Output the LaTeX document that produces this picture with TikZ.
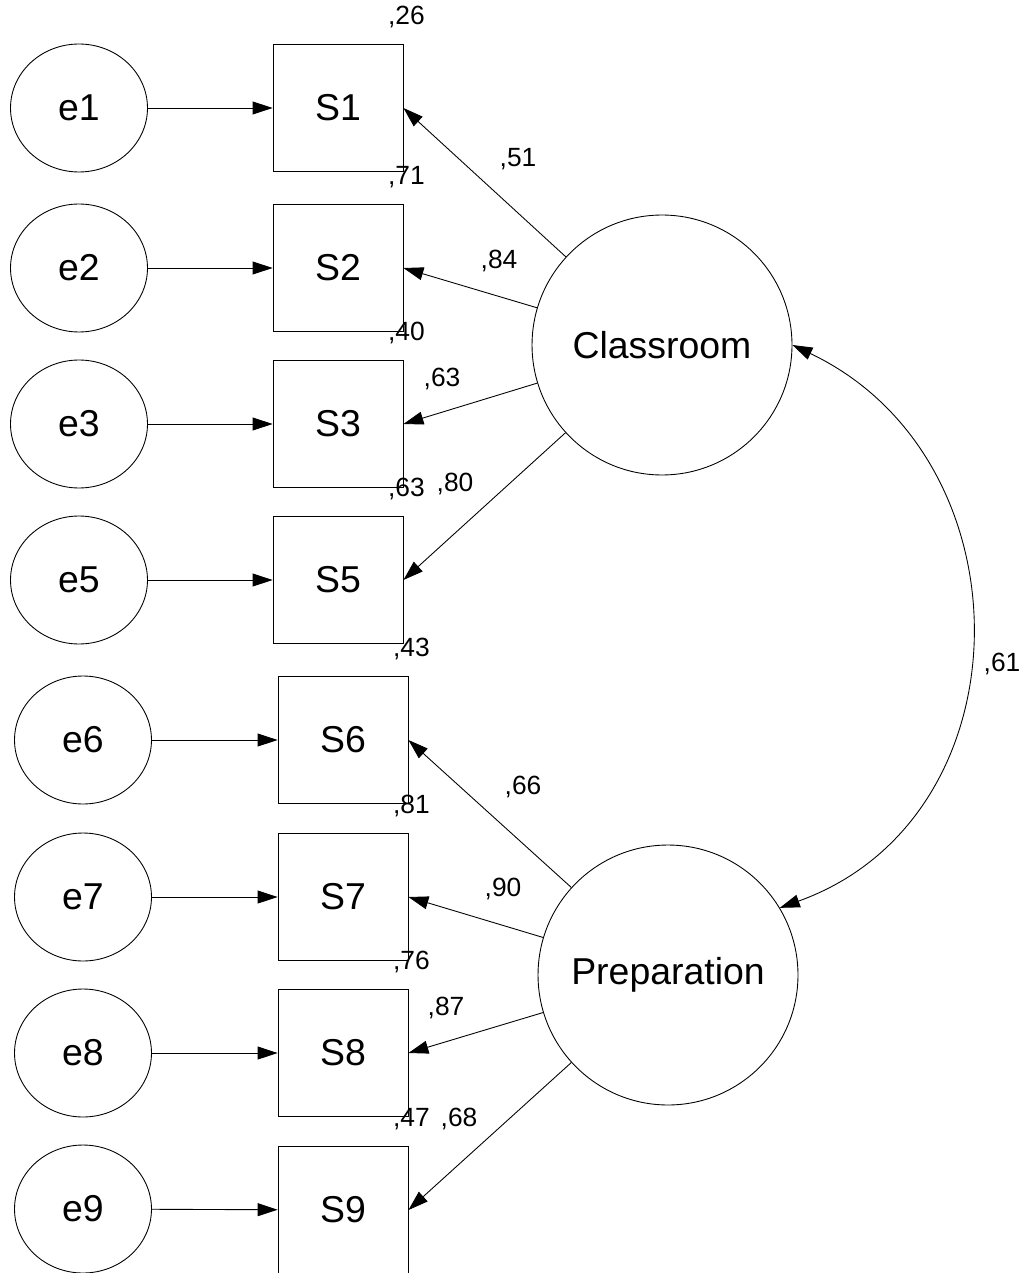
\documentclass[tikz,border=0pt]{standalone}
\usepackage{fontspec}
\setmainfont{Liberation Sans}
\usetikzlibrary{arrows.meta,shapes.geometric}

\begin{document}
\begin{tikzpicture}[x=0.02cm, y=-0.02cm,
    every node/.style = {font=\fontsize{21.3}{25}\selectfont},
    err/.style = {ellipse, draw, line width=0.5pt, minimum width=2.74cm,
      minimum height=2.56cm, inner sep=0pt},
    obs/.style = {rectangle, draw, line width=0.5pt, minimum width=2.6cm,
      minimum height=2.54cm, inner sep=0pt},
    lat/.style = {circle, draw, line width=0.5pt, minimum size=5.2cm},
    coef/.style = {font=\fontsize{15}{18}\selectfont, inner sep=0pt},
    link/.style = {-{Triangle[length=0.4cm,width=0.26cm]}, line width=0.5pt},
    cov/.style = {{Triangle[length=0.4cm,width=0.26cm]}-{Triangle[length=0.4cm,width=0.26cm]},
      line width=0.5pt}]
    \useasboundingbox (0,0) rectangle (1024,1273);
    \clip (0,0) rectangle (1024,1273);

    % error terms
    \node[err] (e1) at (79,108) {e1};
    \node[err] (e2) at (79,268) {e2};
    \node[err] (e3) at (79,424) {e3};
    \node[err] (e5) at (79,580) {e5};
    \node[err] (e6) at (83,740) {e6};
    \node[err] (e7) at (83,897) {e7};
    \node[err] (e8) at (83,1053) {e8};
    \node[err] (e9) at (83,1209) {e9};

    % items
    \node[obs] (S1) at (338,108) {S1};
    \node[obs] (S2) at (338,268) {S2};
    \node[obs] (S3) at (338,424) {S3};
    \node[obs] (S5) at (338,580) {S5};
    \node[obs] (S6) at (343,740) {S6};
    \node[obs] (S7) at (343,897) {S7};
    \node[obs] (S8) at (343,1053) {S8};
    \node[obs] (S9) at (343,1210) {S9};

    % factors
    \node[lat] (cls) at (662,345) {Classroom};
    \node[lat] (pre) at (668,975) {Preparation};

    % squared multiple correlations
    \node[coef] (r1) at ([xshift=0.06cm,yshift=0.54cm]S1.north east) {,26};
    \node[coef] (r2) at ([xshift=0.06cm,yshift=0.54cm]S2.north east) {,71};
    \node[coef] (r3) at ([xshift=0.06cm,yshift=0.54cm]S3.north east) {,40};
    \node[coef] (r5) at ([xshift=0.06cm,yshift=0.54cm]S5.north east) {,63};
    \node[coef] (r6) at ([xshift=0.06cm,yshift=0.54cm]S6.north east) {,43};
    \node[coef] (r7) at ([xshift=0.06cm,yshift=0.54cm]S7.north east) {,81};
    \node[coef] (r8) at ([xshift=0.06cm,yshift=0.54cm]S8.north east) {,76};
    \node[coef] (r9) at ([xshift=0.06cm,yshift=0.54cm]S9.north east) {,47};

    % errors to items
    \draw[link] (e1) -- (S1);
    \draw[link] (e2) -- (S2);
    \draw[link] (e3) -- (S3);
    \draw[link] (e5) -- (S5);
    \draw[link] (e6) -- (S6);
    \draw[link] (e7) -- (S7);
    \draw[link] (e8) -- (S8);
    \draw[link] (e9) -- (S9);

    % loadings
    \draw[link] (cls) -- (S1.east);
    \draw[link] (cls) -- (S2.east);
    \draw[link] (cls) -- (S3.east);
    \draw[link] (cls) -- (S5.east);
    \draw[link] (pre) -- (S6.east);
    \draw[link] (pre) -- (S7.east);
    \draw[link] (pre) -- (S8.east);
    \draw[link] (pre) -- (S9.east);

    \node[coef] (l1) at (518,159) {,51};
    \node[coef] (l2) at (499,261) {,84};
    \node[coef] (l3) at (442,379) {,63};
    \node[coef] (l5) at (455,484) {,80};
    \node[coef] (l6) at (523,787) {,66};
    \node[coef] (l7) at (503,889) {,90};
    \node[coef] (l8) at (446,1008) {,87};
    \node[coef] (l9) at (459,1119) {,68};

    % factor covariance
    \draw[cov] (cls.0) .. controls (1032,459) and (1030,818) .. (pre.31);
    \node[coef] (c1) at (1002,664) {,61};
\end{tikzpicture}
\end{document}
